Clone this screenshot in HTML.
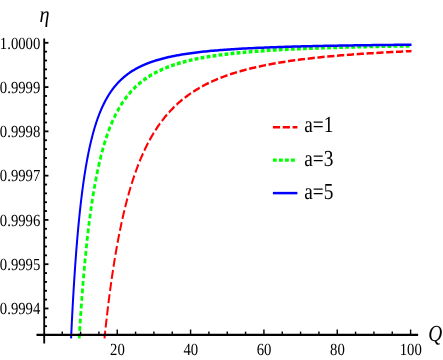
<!DOCTYPE html>
<html><head><meta charset="utf-8"><title>plot</title>
<style>
html,body{margin:0;padding:0;background:#fff;}
svg{display:block;font-family:"Liberation Serif",serif;will-change:transform;}
svg text{text-rendering:geometricPrecision;}
</style></head><body>
<svg width="443" height="360" viewBox="0 0 443 360">
<rect width="443" height="360" fill="#fff"/>
<g transform="scale(0.8,1)">
<g fill="none" stroke-linejoin="round">
<path d="M130.60,338.40 L130.88,336.21 L131.16,334.05 L131.44,331.91 L131.73,329.79 L132.01,327.70 L132.29,325.63 L132.57,323.58 L132.86,321.55 L133.14,319.55 L133.42,317.57 L133.70,315.60 L133.98,313.66 L134.27,311.74 L134.55,309.85 L134.83,307.97 L135.11,306.11 L135.39,304.27 L135.68,302.45 L135.96,300.64 L136.24,298.86 L136.52,297.10 L136.81,295.35 L137.09,293.62 L137.37,291.91 L137.65,290.22 L137.93,288.54 L138.22,286.88 L138.50,285.24 L138.78,283.61 L139.06,282.01 L139.34,280.41 L139.63,278.83 L139.91,277.27 L140.19,275.73 L140.47,274.20 L140.76,272.68 L141.04,271.18 L141.32,269.69 L141.60,268.22 L141.88,266.76 L142.17,265.32 L142.45,263.89 L142.73,262.47 L143.01,261.07 L143.29,259.68 L143.58,258.31 L143.86,256.94 L144.14,255.59 L144.42,254.26 L144.71,252.93 L144.99,251.62 L145.27,250.32 L145.55,249.03 L145.83,247.76 L146.12,246.50 L146.40,245.24 L146.68,244.00 L146.96,242.77 L147.24,241.56 L147.53,240.35 L147.81,239.15 L148.09,237.97 L148.37,236.79 L148.66,235.63 L148.94,234.48 L149.22,233.33 L149.50,232.20 L149.78,231.08 L150.07,229.97 L150.35,228.86 L150.63,227.77 L150.91,226.69 L151.19,225.61 L151.48,224.55 L151.76,223.49 L152.04,222.45 L152.32,221.41 L152.61,220.38 L152.89,219.36 L153.17,218.35 L153.45,217.35 L153.73,216.36 L154.02,215.37 L154.30,214.40 L154.58,213.43 L154.86,212.47 L155.14,211.52 L155.43,210.57 L155.71,209.64 L155.99,208.71 L156.27,207.79 L156.56,206.87 L156.84,205.97 L157.12,205.07 L157.40,204.18 L157.68,203.30 L157.97,202.42 L158.25,201.55 L158.53,200.69 L158.81,199.84 L159.09,198.99 L159.38,198.15 L159.66,197.32 L159.94,196.49 L160.22,195.67 L160.51,194.86 L160.79,194.05 L161.07,193.25 L161.35,192.45 L161.63,191.66 L161.92,190.88 L162.20,190.11 L162.48,189.34 L162.76,188.57 L163.04,187.81 L163.33,187.06 L163.61,186.32 L163.89,185.58 L164.17,184.84 L164.46,184.11 L164.74,183.39 L165.02,182.67 L165.30,181.96 L165.58,181.25 L165.87,180.55 L166.15,179.85 L166.43,179.16 L166.71,178.48 L166.99,177.80 L167.28,177.12 L167.56,176.45 L167.84,175.79 L168.12,175.13 L168.41,174.47 L168.69,173.82 L168.97,173.17 L169.25,172.53 L169.53,171.90 L169.82,171.27 L170.10,170.64 L170.38,170.02 L170.66,169.40 L170.94,168.79 L171.23,168.18 L171.51,167.57 L171.79,166.97 L172.07,166.38 L172.36,165.78 L172.64,165.20 L172.92,164.61 L173.20,164.04 L173.48,163.46 L173.77,162.89 L174.05,162.32 L174.33,161.76 L174.61,161.20 L174.89,160.65 L175.18,160.10 L175.46,159.55 L175.74,159.01 L176.02,158.47 L176.31,157.93 L176.59,157.40 L176.87,156.87 L177.15,156.35 L177.43,155.83 L177.72,155.31 L178.00,154.80 L178.28,154.29 L178.56,153.78 L178.84,153.28 L179.13,152.78 L179.41,152.28 L179.69,151.79 L179.97,151.30 L180.26,150.81 L180.54,150.33 L180.82,149.85 L181.10,149.37 L181.38,148.90 L181.67,148.43 L181.95,147.96 L182.23,147.50 L182.51,147.04 L182.79,146.58 L183.08,146.12 L183.36,145.67 L183.64,145.22 L183.92,144.78 L184.21,144.33 L184.49,143.89 L184.77,143.45 L185.05,143.02 L185.33,142.59 L185.62,142.16 L185.90,141.73 L186.18,141.31 L186.46,140.89 L186.74,140.47 L187.03,140.06 L187.31,139.64 L187.59,139.23 L187.87,138.83 L188.16,138.42 L188.44,138.02 L188.72,137.62 L189.00,137.22 L189.28,136.83 L189.57,136.43 L189.85,136.04 L190.13,135.66 L190.41,135.27 L190.69,134.89 L190.98,134.51 L191.26,134.13 L191.54,133.76 L191.82,133.38 L192.11,133.01 L192.39,132.64 L194.70,129.70 L197.02,126.90 L199.34,124.24 L201.65,121.69 L203.97,119.27 L206.29,116.96 L208.60,114.75 L210.92,112.64 L213.24,110.62 L215.55,108.69 L217.87,106.83 L220.19,105.06 L222.50,103.36 L224.82,101.73 L227.14,100.16 L229.45,98.66 L231.77,97.21 L234.09,95.82 L236.40,94.48 L238.72,93.20 L241.04,91.96 L243.35,90.77 L245.67,89.61 L247.99,88.51 L250.30,87.44 L252.62,86.40 L254.94,85.41 L257.25,84.44 L259.57,83.51 L261.89,82.61 L264.20,81.74 L266.52,80.90 L268.84,80.09 L271.15,79.30 L273.47,78.54 L275.79,77.80 L278.10,77.08 L280.42,76.39 L282.74,75.71 L285.05,75.06 L287.37,74.43 L289.69,73.81 L292.00,73.21 L294.32,72.63 L296.63,72.07 L298.95,71.52 L301.27,70.99 L303.58,70.47 L305.90,69.97 L308.22,69.48 L310.53,69.01 L312.85,68.54 L315.17,68.09 L317.48,67.65 L319.80,67.23 L322.12,66.81 L324.43,66.40 L326.75,66.01 L329.07,65.62 L331.38,65.25 L333.70,64.88 L336.02,64.52 L338.33,64.17 L340.65,63.83 L342.97,63.50 L345.28,63.18 L347.60,62.86 L349.92,62.55 L352.23,62.25 L354.55,61.95 L356.87,61.67 L359.18,61.38 L361.50,61.11 L363.82,60.84 L366.13,60.58 L368.45,60.32 L370.77,60.07 L373.08,59.82 L375.40,59.58 L377.72,59.35 L380.03,59.12 L382.35,58.89 L384.67,58.67 L386.98,58.45 L389.30,58.24 L391.62,58.03 L393.93,57.83 L396.25,57.63 L398.57,57.43 L400.88,57.24 L403.20,57.06 L405.52,56.87 L407.83,56.69 L410.15,56.52 L412.47,56.34 L414.78,56.17 L417.10,56.01 L419.42,55.84 L421.73,55.68 L424.05,55.52 L426.36,55.37 L428.68,55.22 L431.00,55.07 L433.31,54.92 L435.63,54.78 L437.95,54.64 L440.26,54.50 L442.58,54.36 L444.90,54.23 L447.21,54.10 L449.53,53.97 L451.85,53.84 L454.16,53.72 L456.48,53.60 L458.80,53.48 L461.11,53.36 L463.43,53.24 L465.75,53.13 L468.06,53.02 L470.38,52.91 L472.70,52.80 L475.01,52.69 L477.33,52.59 L479.65,52.48 L481.96,52.38 L484.28,52.28 L486.60,52.18 L488.91,52.09 L491.23,51.99 L493.55,51.90 L495.86,51.81 L498.18,51.72 L500.50,51.63 L502.81,51.54 L505.13,51.45 L507.45,51.37 L509.76,51.28 L512.08,51.20 L514.40,51.12" stroke="#ff0000" stroke-width="2.5" stroke-dasharray="9 3.3" stroke-dashoffset="1.3"/>
<path d="M99.00,338.40 L99.43,332.77 L99.85,327.31 L100.28,321.99 L100.71,316.83 L101.13,311.81 L101.56,306.92 L101.99,302.16 L102.41,297.54 L102.84,293.03 L103.26,288.65 L103.69,284.38 L104.12,280.22 L104.54,276.16 L104.97,272.21 L105.40,268.36 L105.82,264.60 L106.25,260.94 L106.68,257.37 L107.10,253.89 L107.53,250.49 L107.96,247.17 L108.38,243.93 L108.81,240.76 L109.23,237.68 L109.66,234.66 L110.09,231.71 L110.51,228.83 L110.94,226.02 L111.37,223.26 L111.79,220.58 L112.22,217.95 L112.65,215.37 L113.07,212.86 L113.50,210.40 L113.93,207.99 L114.35,205.63 L114.78,203.33 L115.20,201.07 L115.63,198.86 L116.06,196.70 L116.48,194.58 L116.91,192.50 L117.34,190.47 L117.76,188.48 L118.19,186.53 L118.62,184.61 L119.04,182.74 L119.47,180.90 L119.90,179.10 L120.32,177.33 L120.75,175.60 L121.17,173.90 L121.60,172.24 L122.03,170.60 L122.45,169.00 L122.88,167.42 L123.31,165.88 L123.73,164.36 L124.16,162.88 L124.59,161.41 L125.01,159.98 L125.44,158.57 L125.87,157.19 L126.29,155.83 L126.72,154.50 L127.14,153.19 L127.57,151.90 L128.00,150.63 L128.42,149.39 L128.85,148.17 L129.28,146.97 L129.70,145.79 L130.13,144.63 L130.56,143.48 L130.98,142.36 L131.41,141.26 L131.84,140.17 L132.26,139.11 L132.69,138.06 L133.11,137.03 L133.54,136.01 L133.97,135.01 L134.39,134.03 L134.82,133.06 L135.25,132.11 L135.67,131.17 L136.10,130.25 L136.53,129.34 L136.95,128.45 L137.38,127.57 L137.81,126.70 L138.23,125.85 L138.66,125.01 L139.08,124.18 L139.51,123.37 L139.94,122.56 L140.36,121.77 L140.79,120.99 L141.22,120.23 L141.64,119.47 L142.07,118.72 L142.50,117.99 L142.92,117.27 L143.35,116.55 L143.77,115.85 L144.20,115.16 L144.63,114.47 L145.05,113.80 L145.48,113.14 L145.91,112.48 L146.33,111.84 L146.76,111.20 L147.19,110.57 L147.61,109.95 L148.04,109.34 L148.47,108.74 L148.89,108.15 L149.32,107.56 L149.74,106.98 L150.17,106.41 L150.60,105.85 L151.02,105.29 L151.45,104.75 L151.88,104.20 L152.30,103.67 L152.73,103.14 L153.16,102.62 L153.58,102.11 L154.01,101.60 L154.44,101.10 L154.86,100.61 L155.29,100.12 L155.71,99.64 L156.14,99.17 L156.57,98.70 L156.99,98.23 L157.42,97.78 L157.85,97.32 L158.27,96.88 L158.70,96.44 L159.13,96.00 L159.55,95.57 L159.98,95.15 L160.41,94.73 L160.83,94.31 L161.26,93.90 L161.68,93.50 L162.11,93.10 L162.54,92.70 L162.96,92.31 L163.39,91.93 L163.82,91.54 L164.24,91.17 L164.67,90.80 L165.10,90.43 L165.52,90.06 L165.95,89.70 L166.38,89.35 L166.80,89.00 L167.23,88.65 L167.65,88.30 L168.08,87.96 L168.51,87.63 L168.93,87.30 L169.36,86.97 L169.79,86.64 L170.21,86.32 L170.64,86.00 L171.07,85.69 L171.49,85.38 L171.92,85.07 L172.35,84.77 L172.77,84.47 L173.20,84.17 L173.62,83.87 L174.05,83.58 L174.48,83.29 L174.90,83.01 L175.33,82.73 L175.76,82.45 L176.18,82.17 L176.61,81.90 L177.04,81.63 L177.46,81.36 L177.89,81.10 L178.32,80.83 L178.74,80.57 L179.17,80.32 L179.59,80.06 L180.02,79.81 L180.45,79.56 L180.87,79.32 L181.30,79.07 L181.73,78.83 L182.15,78.59 L182.58,78.36 L183.01,78.12 L183.43,77.89 L183.86,77.66 L184.29,77.43 L184.71,77.21 L185.14,76.98 L185.56,76.76 L185.99,76.54 L186.42,76.33 L186.84,76.11 L187.27,75.90 L187.70,75.69 L188.12,75.48 L188.55,75.28 L188.98,75.07 L189.40,74.87 L189.83,74.67 L190.26,74.47 L190.68,74.27 L191.11,74.08 L191.53,73.89 L191.96,73.70 L192.39,73.51 L194.70,72.51 L197.02,71.56 L199.34,70.65 L201.65,69.79 L203.97,68.96 L206.29,68.18 L208.60,67.43 L210.92,66.71 L213.24,66.03 L215.55,65.37 L217.87,64.74 L220.19,64.14 L222.50,63.56 L224.82,63.01 L227.14,62.48 L229.45,61.97 L231.77,61.47 L234.09,61.00 L236.40,60.55 L238.72,60.11 L241.04,59.69 L243.35,59.29 L245.67,58.89 L247.99,58.52 L250.30,58.15 L252.62,57.80 L254.94,57.47 L257.25,57.14 L259.57,56.82 L261.89,56.52 L264.20,56.22 L266.52,55.94 L268.84,55.66 L271.15,55.39 L273.47,55.13 L275.79,54.88 L278.10,54.64 L280.42,54.40 L282.74,54.17 L285.05,53.95 L287.37,53.74 L289.69,53.53 L292.00,53.33 L294.32,53.13 L296.63,52.94 L298.95,52.75 L301.27,52.57 L303.58,52.40 L305.90,52.22 L308.22,52.06 L310.53,51.90 L312.85,51.74 L315.17,51.59 L317.48,51.44 L319.80,51.29 L322.12,51.15 L324.43,51.01 L326.75,50.88 L329.07,50.75 L331.38,50.62 L333.70,50.50 L336.02,50.37 L338.33,50.26 L340.65,50.14 L342.97,50.03 L345.28,49.92 L347.60,49.81 L349.92,49.70 L352.23,49.60 L354.55,49.50 L356.87,49.40 L359.18,49.31 L361.50,49.22 L363.82,49.12 L366.13,49.03 L368.45,48.95 L370.77,48.86 L373.08,48.78 L375.40,48.70 L377.72,48.62 L380.03,48.54 L382.35,48.46 L384.67,48.39 L386.98,48.31 L389.30,48.24 L391.62,48.17 L393.93,48.10 L396.25,48.03 L398.57,47.97 L400.88,47.90 L403.20,47.84 L405.52,47.78 L407.83,47.72 L410.15,47.66 L412.47,47.60 L414.78,47.54 L417.10,47.48 L419.42,47.43 L421.73,47.37 L424.05,47.32 L426.36,47.27 L428.68,47.21 L431.00,47.16 L433.31,47.11 L435.63,47.07 L437.95,47.02 L440.26,46.97 L442.58,46.93 L444.90,46.88 L447.21,46.84 L449.53,46.79 L451.85,46.75 L454.16,46.71 L456.48,46.66 L458.80,46.62 L461.11,46.58 L463.43,46.54 L465.75,46.51 L468.06,46.47 L470.38,46.43 L472.70,46.39 L475.01,46.36 L477.33,46.32 L479.65,46.29 L481.96,46.25 L484.28,46.22 L486.60,46.18 L488.91,46.15 L491.23,46.12 L493.55,46.09 L495.86,46.06 L498.18,46.03 L500.50,46.00 L502.81,45.97 L505.13,45.94 L507.45,45.91 L509.76,45.88 L512.08,45.85 L514.40,45.82" stroke="#00ff00" stroke-width="3.5" stroke-dasharray="4.75 2.8"/>
<path d="M88.83,338.40 L89.31,330.34 L89.78,322.61 L90.25,315.19 L90.72,308.06 L91.20,301.21 L91.67,294.62 L92.14,288.27 L92.62,282.17 L93.09,276.29 L93.56,270.62 L94.03,265.16 L94.51,259.89 L94.98,254.81 L95.45,249.91 L95.93,245.17 L96.40,240.59 L96.87,236.17 L97.34,231.90 L97.82,227.76 L98.29,223.76 L98.76,219.89 L99.24,216.14 L99.71,212.51 L100.18,208.99 L100.65,205.58 L101.13,202.28 L101.60,199.07 L102.07,195.96 L102.55,192.94 L103.02,190.01 L103.49,187.17 L103.96,184.41 L104.44,181.72 L104.91,179.12 L105.38,176.58 L105.86,174.12 L106.33,171.72 L106.80,169.39 L107.27,167.12 L107.75,164.91 L108.22,162.76 L108.69,160.67 L109.17,158.63 L109.64,156.64 L110.11,154.71 L110.58,152.82 L111.06,150.98 L111.53,149.19 L112.00,147.44 L112.48,145.73 L112.95,144.07 L113.42,142.44 L113.89,140.86 L114.37,139.31 L114.84,137.80 L115.31,136.32 L115.79,134.88 L116.26,133.47 L116.73,132.10 L117.20,130.75 L117.68,129.44 L118.15,128.15 L118.62,126.89 L119.10,125.66 L119.57,124.46 L120.04,123.28 L120.51,122.13 L120.99,121.01 L121.46,119.90 L121.93,118.83 L122.41,117.77 L122.88,116.73 L123.35,115.72 L123.82,114.73 L124.30,113.76 L124.77,112.80 L125.24,111.87 L125.71,110.95 L126.19,110.06 L126.66,109.18 L127.13,108.32 L127.61,107.47 L128.08,106.64 L128.55,105.83 L129.02,105.03 L129.50,104.25 L129.97,103.48 L130.44,102.73 L130.92,101.99 L131.39,101.26 L131.86,100.55 L132.33,99.85 L132.81,99.16 L133.28,98.49 L133.75,97.83 L134.23,97.18 L134.70,96.54 L135.17,95.91 L135.64,95.30 L136.12,94.69 L136.59,94.09 L137.06,93.51 L137.54,92.93 L138.01,92.37 L138.48,91.81 L138.95,91.27 L139.43,90.73 L139.90,90.20 L140.37,89.68 L140.85,89.17 L141.32,88.67 L141.79,88.17 L142.26,87.69 L142.74,87.21 L143.21,86.74 L143.68,86.27 L144.16,85.82 L144.63,85.37 L145.10,84.93 L145.57,84.49 L146.05,84.06 L146.52,83.64 L146.99,83.23 L147.47,82.82 L147.94,82.42 L148.41,82.02 L148.88,81.63 L149.36,81.24 L149.83,80.87 L150.30,80.49 L150.78,80.12 L151.25,79.76 L151.72,79.40 L152.19,79.05 L152.67,78.71 L153.14,78.36 L153.61,78.03 L154.09,77.69 L154.56,77.37 L155.03,77.04 L155.50,76.73 L155.98,76.41 L156.45,76.10 L156.92,75.80 L157.40,75.50 L157.87,75.20 L158.34,74.91 L158.81,74.62 L159.29,74.33 L159.76,74.05 L160.23,73.78 L160.71,73.50 L161.18,73.23 L161.65,72.97 L162.12,72.70 L162.60,72.44 L163.07,72.19 L163.54,71.94 L164.02,71.69 L164.49,71.44 L164.96,71.20 L165.43,70.96 L165.91,70.72 L166.38,70.49 L166.85,70.26 L167.33,70.03 L167.80,69.80 L168.27,69.58 L168.74,69.36 L169.22,69.14 L169.69,68.93 L170.16,68.72 L170.64,68.51 L171.11,68.30 L171.58,68.10 L172.05,67.90 L172.53,67.70 L173.00,67.50 L173.47,67.31 L173.95,67.12 L174.42,66.93 L174.89,66.74 L175.36,66.55 L175.84,66.37 L176.31,66.19 L176.78,66.01 L177.26,65.84 L177.73,65.66 L178.20,65.49 L178.67,65.32 L179.15,65.15 L179.62,64.98 L180.09,64.82 L180.57,64.65 L181.04,64.49 L181.51,64.33 L181.98,64.18 L182.46,64.02 L182.93,63.87 L183.40,63.71 L183.88,63.56 L184.35,63.41 L184.82,63.27 L185.29,63.12 L185.77,62.97 L186.24,62.83 L186.71,62.69 L187.19,62.55 L187.66,62.41 L188.13,62.28 L188.60,62.14 L189.08,62.01 L189.55,61.87 L190.02,61.74 L190.50,61.61 L190.97,61.48 L191.44,61.36 L191.91,61.23 L192.39,61.11 L194.70,60.52 L197.02,59.95 L199.34,59.42 L201.65,58.91 L203.97,58.42 L206.29,57.95 L208.60,57.51 L210.92,57.08 L213.24,56.68 L215.55,56.29 L217.87,55.92 L220.19,55.56 L222.50,55.22 L224.82,54.89 L227.14,54.58 L229.45,54.27 L231.77,53.98 L234.09,53.70 L236.40,53.43 L238.72,53.17 L241.04,52.93 L243.35,52.69 L245.67,52.45 L247.99,52.23 L250.30,52.02 L252.62,51.81 L254.94,51.61 L257.25,51.41 L259.57,51.23 L261.89,51.05 L264.20,50.87 L266.52,50.70 L268.84,50.54 L271.15,50.38 L273.47,50.23 L275.79,50.08 L278.10,49.93 L280.42,49.79 L282.74,49.66 L285.05,49.53 L287.37,49.40 L289.69,49.28 L292.00,49.16 L294.32,49.04 L296.63,48.93 L298.95,48.82 L301.27,48.71 L303.58,48.60 L305.90,48.50 L308.22,48.41 L310.53,48.31 L312.85,48.22 L315.17,48.13 L317.48,48.04 L319.80,47.95 L322.12,47.87 L324.43,47.79 L326.75,47.71 L329.07,47.63 L331.38,47.55 L333.70,47.48 L336.02,47.41 L338.33,47.34 L340.65,47.27 L342.97,47.20 L345.28,47.14 L347.60,47.07 L349.92,47.01 L352.23,46.95 L354.55,46.89 L356.87,46.83 L359.18,46.78 L361.50,46.72 L363.82,46.67 L366.13,46.61 L368.45,46.56 L370.77,46.51 L373.08,46.46 L375.40,46.41 L377.72,46.37 L380.03,46.32 L382.35,46.28 L384.67,46.23 L386.98,46.19 L389.30,46.14 L391.62,46.10 L393.93,46.06 L396.25,46.02 L398.57,45.98 L400.88,45.94 L403.20,45.91 L405.52,45.87 L407.83,45.83 L410.15,45.80 L412.47,45.76 L414.78,45.73 L417.10,45.70 L419.42,45.66 L421.73,45.63 L424.05,45.60 L426.36,45.57 L428.68,45.54 L431.00,45.51 L433.31,45.48 L435.63,45.45 L437.95,45.42 L440.26,45.39 L442.58,45.37 L444.90,45.34 L447.21,45.31 L449.53,45.29 L451.85,45.26 L454.16,45.24 L456.48,45.21 L458.80,45.19 L461.11,45.16 L463.43,45.14 L465.75,45.12 L468.06,45.09 L470.38,45.07 L472.70,45.05 L475.01,45.03 L477.33,45.01 L479.65,44.99 L481.96,44.97 L484.28,44.95 L486.60,44.93 L488.91,44.91 L491.23,44.89 L493.55,44.87 L495.86,44.85 L498.18,44.83 L500.50,44.81 L502.81,44.80 L505.13,44.78 L507.45,44.76 L509.76,44.75 L512.08,44.73 L514.40,44.71" stroke="#0000ff" stroke-width="2.5"/>
</g>
<g stroke="#000" stroke-width="2.3">
<line x1="45.62" y1="334.8" x2="522.62" y2="334.8"/>
<line x1="55.25" y1="38.5" x2="55.25" y2="343.5"/>
</g>
<g stroke="#000" stroke-width="1.8">
<line x1="77.79" y1="334.8" x2="77.79" y2="331.60"/>
<line x1="100.71" y1="334.8" x2="100.71" y2="331.60"/>
<line x1="123.63" y1="334.8" x2="123.63" y2="331.60"/>
<line x1="146.55" y1="334.8" x2="146.55" y2="329.50"/>
<line x1="169.47" y1="334.8" x2="169.47" y2="331.60"/>
<line x1="192.39" y1="334.8" x2="192.39" y2="331.60"/>
<line x1="215.31" y1="334.8" x2="215.31" y2="331.60"/>
<line x1="238.22" y1="334.8" x2="238.22" y2="329.50"/>
<line x1="261.14" y1="334.8" x2="261.14" y2="331.60"/>
<line x1="284.06" y1="334.8" x2="284.06" y2="331.60"/>
<line x1="306.98" y1="334.8" x2="306.98" y2="331.60"/>
<line x1="329.90" y1="334.8" x2="329.90" y2="329.50"/>
<line x1="352.82" y1="334.8" x2="352.82" y2="331.60"/>
<line x1="375.74" y1="334.8" x2="375.74" y2="331.60"/>
<line x1="398.66" y1="334.8" x2="398.66" y2="331.60"/>
<line x1="421.57" y1="334.8" x2="421.57" y2="329.50"/>
<line x1="444.49" y1="334.8" x2="444.49" y2="331.60"/>
<line x1="467.41" y1="334.8" x2="467.41" y2="331.60"/>
<line x1="490.33" y1="334.8" x2="490.33" y2="331.60"/>
<line x1="513.25" y1="334.8" x2="513.25" y2="329.50"/>
<line x1="55.25" y1="42.80" x2="60.55" y2="42.80"/>
<line x1="55.25" y1="51.66" x2="58.75" y2="51.66"/>
<line x1="55.25" y1="60.51" x2="58.75" y2="60.51"/>
<line x1="55.25" y1="69.37" x2="58.75" y2="69.37"/>
<line x1="55.25" y1="78.22" x2="58.75" y2="78.22"/>
<line x1="55.25" y1="87.08" x2="60.55" y2="87.08"/>
<line x1="55.25" y1="95.94" x2="58.75" y2="95.94"/>
<line x1="55.25" y1="104.79" x2="58.75" y2="104.79"/>
<line x1="55.25" y1="113.65" x2="58.75" y2="113.65"/>
<line x1="55.25" y1="122.50" x2="58.75" y2="122.50"/>
<line x1="55.25" y1="131.36" x2="60.55" y2="131.36"/>
<line x1="55.25" y1="140.22" x2="58.75" y2="140.22"/>
<line x1="55.25" y1="149.07" x2="58.75" y2="149.07"/>
<line x1="55.25" y1="157.93" x2="58.75" y2="157.93"/>
<line x1="55.25" y1="166.78" x2="58.75" y2="166.78"/>
<line x1="55.25" y1="175.64" x2="60.55" y2="175.64"/>
<line x1="55.25" y1="184.50" x2="58.75" y2="184.50"/>
<line x1="55.25" y1="193.35" x2="58.75" y2="193.35"/>
<line x1="55.25" y1="202.21" x2="58.75" y2="202.21"/>
<line x1="55.25" y1="211.06" x2="58.75" y2="211.06"/>
<line x1="55.25" y1="219.92" x2="60.55" y2="219.92"/>
<line x1="55.25" y1="228.78" x2="58.75" y2="228.78"/>
<line x1="55.25" y1="237.63" x2="58.75" y2="237.63"/>
<line x1="55.25" y1="246.49" x2="58.75" y2="246.49"/>
<line x1="55.25" y1="255.34" x2="58.75" y2="255.34"/>
<line x1="55.25" y1="264.20" x2="60.55" y2="264.20"/>
<line x1="55.25" y1="273.06" x2="58.75" y2="273.06"/>
<line x1="55.25" y1="281.91" x2="58.75" y2="281.91"/>
<line x1="55.25" y1="290.77" x2="58.75" y2="290.77"/>
<line x1="55.25" y1="299.62" x2="58.75" y2="299.62"/>
<line x1="55.25" y1="308.48" x2="60.55" y2="308.48"/>
<line x1="55.25" y1="317.34" x2="58.75" y2="317.34"/>
<line x1="55.25" y1="326.19" x2="58.75" y2="326.19"/>
</g>
<g fill="none">
<line x1="341.12" y1="127.2" x2="371.75" y2="127.2" stroke="#ff0000" stroke-width="2.5" stroke-dasharray="9 3.3"/>
<line x1="341.12" y1="160.2" x2="369.38" y2="160.2" stroke="#00ff00" stroke-width="3.3" stroke-dasharray="4.75 2.8"/>
<line x1="341.12" y1="193.1" x2="371.75" y2="193.1" stroke="#0000ff" stroke-width="2.5"/>
</g>
</g>
<g fill="#000">
<text transform="translate(40.3,48.60) scale(0.865,1)" text-anchor="end" font-size="17">1.0000</text>
<text transform="translate(40.3,92.88) scale(0.865,1)" text-anchor="end" font-size="17">0.9999</text>
<text transform="translate(40.3,137.16) scale(0.865,1)" text-anchor="end" font-size="17">0.9998</text>
<text transform="translate(40.3,181.44) scale(0.865,1)" text-anchor="end" font-size="17">0.9997</text>
<text transform="translate(40.3,225.72) scale(0.865,1)" text-anchor="end" font-size="17">0.9996</text>
<text transform="translate(40.3,270.00) scale(0.865,1)" text-anchor="end" font-size="17">0.9995</text>
<text transform="translate(40.3,314.28) scale(0.865,1)" text-anchor="end" font-size="17">0.9994</text>
<text transform="translate(117.44,355.4) scale(0.865,1)" text-anchor="middle" font-size="17">20</text>
<text transform="translate(190.78,355.4) scale(0.865,1)" text-anchor="middle" font-size="17">40</text>
<text transform="translate(264.12,355.4) scale(0.865,1)" text-anchor="middle" font-size="17">60</text>
<text transform="translate(337.46,355.4) scale(0.865,1)" text-anchor="middle" font-size="17">80</text>
<text transform="translate(410.80,355.4) scale(0.865,1)" text-anchor="middle" font-size="17">100</text>
<text transform="translate(39.5,21.6) scale(0.88,1)" font-size="23" font-style="italic">η</text>
<text transform="translate(428.2,340.7) scale(0.84,1)" font-size="23" font-style="italic">Q</text>
<text transform="translate(304.2,132.4) scale(0.84,1)" font-size="23">a=1</text>
<text transform="translate(304.2,165.7) scale(0.84,1)" font-size="23">a=3</text>
<text transform="translate(304.2,198.7) scale(0.84,1)" font-size="23">a=5</text>
</g>
</svg>
</body></html>
